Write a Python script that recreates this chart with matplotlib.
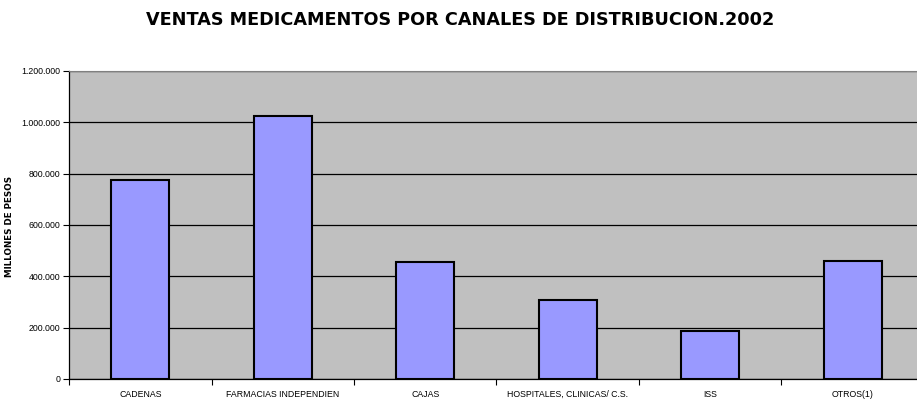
import matplotlib.pyplot as plt
from matplotlib.ticker import FuncFormatter

canales = ["CADENAS", "FARMACIAS INDEPENDIEN", "CAJAS",
           "HOSPITALES, CLINICAS/ C.S.", "ISS", "OTROS(1)"]
ventas = [775000, 1025000, 456000, 308000, 187000, 460000]

plt.rcParams['font.family'] = ['Liberation Sans', 'DejaVu Sans']

fig = plt.figure(figsize=(9.17, 4.01), dpi=100)
ax = fig.add_axes([69 / 917, 1 - 379 / 401, 855 / 917, 308 / 401])
ax.set_facecolor("#c0c0c0")

x = range(len(canales))
ax.bar(x, ventas, width=0.41, color="#9999ff", edgecolor="black",
       linewidth=1.5, zorder=3)

ax.set_xlim(-0.5, len(canales) - 0.5)
ax.set_ylim(0, 1200000)
ax.set_yticks(range(0, 1200001, 200000))
ax.yaxis.set_major_formatter(
    FuncFormatter(lambda v, p: f"{int(v):,}".replace(",", ".")))
ax.grid(axis="y", color="black", linewidth=0.9, zorder=1)

ax.set_xticks(list(x))
ax.set_xticklabels(canales, fontsize=6.3)
ax.set_xticks([i + 0.5 for i in range(-1, len(canales))], minor=True)
ax.tick_params(axis="x", which="major", length=0, pad=8)
ax.tick_params(axis="x", which="minor", length=4, width=0.8, direction="out")
ax.tick_params(axis="y", labelsize=6.3, length=4, width=0.8, direction="out", pad=2)

for side in ["left", "bottom"]:
    ax.spines[side].set_color("black")
    ax.spines[side].set_linewidth(0.9)
ax.spines["top"].set_color("#808080")
ax.spines["right"].set_visible(False)

# y label placed by hand, the tick labels push it off the figure otherwise
fig.text(10 / 917, 1 - 226 / 401, "MILLONES DE PESOS", rotation=90,
         ha="center", va="center", fontsize=6.3, fontweight="bold",
         family=["DejaVu Sans"])

fig.text(0.502, 0.95, "VENTAS MEDICAMENTOS POR CANALES DE DISTRIBUCION.2002",
         ha="center", va="center", fontsize=12.7, fontweight="bold",
         family=["DejaVu Sans"])

fig.savefig("out.png", dpi=100, facecolor="white")
